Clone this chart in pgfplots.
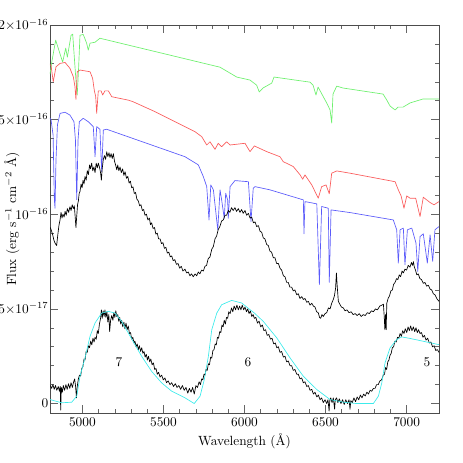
\documentclass[border=0pt]{standalone}
\usepackage{fontspec}
\usepackage{pgfplots}
\pgfplotsset{compat=1.18}
\definecolor{cgreen}{RGB}{110,240,110}
\definecolor{cred}{RGB}{250,90,90}
\definecolor{cblue}{RGB}{90,90,250}
\definecolor{ccyan}{RGB}{60,235,235}
\begin{document}
\begin{tikzpicture}
\begin{axis}[name=ax, scale only axis, width=291.75pt, height=291pt,
  xmin=4800, xmax=7200, ymin=-0.5, ymax=20,
  xtick={5000,5500,6000,6500,7000}, minor x tick num=4,
  ytick={0,5,10,15,20}, minor y tick num=4,
  yticklabels={$0$,$5{\times}10^{-17}$,$10^{-16}$,$1.5{\times}10^{-16}$,$2{\times}10^{-16}$},
  yticklabel style={inner xsep=1pt},
  xticklabel style={/pgf/number format/1000 sep={}},
  tick align=inside, major tick length=6pt, minor tick length=3pt,
  every tick/.style={black!60, line width=0.4pt},
  axis line style={line width=0.5pt, black!70},
  xlabel={Wavelength (Å)},
  ylabel={Flux (erg s$^{-1}$ cm$^{-2}$ Å)},
  every axis x label/.style={at={(axis description cs:0.5,-0.072)}, anchor=center},
  every axis y label/.style={at={(axis description cs:-0.098,0.5)}, anchor=center, rotate=90},
  every axis plot/.append style={line width=0.5pt, line join=round},
]
% green model
\addplot[cgreen, mark=none] coordinates {
(4800,17.4)(4810,17.99)(4835,19.20)(4878,18.04)(4897,18.78)(4907,18.30)(4930,19.46)(4940,19.51)(4960,17.09)(4968,16.30)(4976,17.62)(4985,19.46)(5005,19.50)(5026,19.04)(5036,18.67)(5047,19.04)(5078,19.09)(5108,19.30)(5849,17.77)(5952,17.25)(6034,17.09)(6075,16.82)(6091,16.46)(6114,16.67)(6145,16.82)(6168,16.93)(6182,17.25)(6404,16.98)(6423,16.82)(6441,16.30)(6454,16.72)(6507,15.88)(6528,15.51)(6538,14.82)(6546,16.35)(6569,16.77)(6608,16.67)(6855,16.35)(6878,16.03)(6898,15.72)(6929,15.51)(6947,15.66)(6978,15.66)(7021,15.88)(7101,16.09)(7200,16.09)
};
% red model
\addplot[cred, mark=none] coordinates {
(4800,17.9)(4806,17.88)(4820,17.00)(4837,17.79)(4862,17.97)(4893,18.02)(4923,17.71)(4944,17.26)(4954,16.74)(4960,16.07)(4968,17.53)(4985,17.62)(5047,17.53)(5063,17.18)(5073,16.56)(5082,16.21)(5088,15.33)(5098,16.52)(5115,16.52)(5125,16.30)(5139,16.52)(5160,16.52)(5181,16.21)(5283,16.03)(5314,15.94)(5448,15.42)(5592,14.80)(5695,14.36)(5736,14.10)(5767,13.66)(5787,13.83)(5818,13.43)(5838,13.75)(5859,13.57)(5890,13.83)(5911,13.66)(6003,13.75)(6034,13.31)(6061,13.61)(6137,13.31)(6219,13.04)(6239,12.78)(6301,12.52)(6343,12.08)(6359,11.85)(6373,12.08)(6415,11.55)(6455,10.85)(6476,11.46)(6503,11.55)(6523,11.08)(6538,12.17)(6569,12.29)(6651,12.17)(6929,11.72)(6949,11.29)(6966,10.97)(6984,10.32)(7001,10.97)(7021,10.85)(7056,10.85)(7083,9.88)(7103,10.90)(7145,10.62)(7169,10.50)(7200,10.67)
};
% blue model
\addplot[cblue, mark=none] coordinates {
(4800,15.07)(4806,15.02)(4819,14.19)(4827,10.76)(4831,10.32)(4837,12.87)(4846,14.72)(4862,15.33)(4893,15.39)(4923,15.24)(4948,14.89)(4957,13.92)(4965,10.76)(4973,13.92)(4981,14.89)(5005,15.07)(5036,14.89)(5067,14.63)(5078,13.04)(5088,14.63)(5108,14.49)(5119,12.25)(5129,14.45)(5150,14.49)(5633,13.04)(5715,12.61)(5746,11.99)(5767,11.46)(5781,9.70)(5792,11.55)(5808,11.29)(5835,9.18)(5849,11.29)(5859,10.76)(5875,9.79)(5884,11.11)(5896,10.76)(5900,9.79)(5911,11.46)(5941,11.78)(6024,11.72)(6040,9.62)(6054,11.38)(6065,11.46)(6157,11.29)(6363,10.76)(6367,8.97)(6373,10.67)(6446,10.55)(6462,6.28)(6476,10.41)(6517,10.32)(6523,6.40)(6534,10.23)(6651,10.09)(6918,9.70)(6939,9.18)(6949,7.42)(6960,9.18)(6980,9.27)(6990,7.33)(7005,9.18)(7032,9.27)(7058,8.48)(7069,6.98)(7083,8.82)(7103,8.97)(7128,7.42)(7145,8.91)(7161,7.51)(7175,9.18)(7200,9.35)
};
% observed spectrum (upper)
\addplot[black, mark=none] coordinates {
(4802,9.3)(4810,9.1)(4817,8.9)(4825,8.6)(4833,8.45)(4841,8.35)(4848,8.9)(4855,9.4)(4862,9.7)(4868,10.1)(4874,9.8)(4880,10.0)(4887,9.85)(4893,10.15)(4900,9.95)(4907,10.3)(4915,10.1)(4923,10.4)(4930,10.2)(4937,10.5)(4944,10.3)(4950,10.45)(4955,9.9)(4960,9.3)(4965,9.9)(4970,10.5)(4975,10.7)(4980,11.1)(4985,11.2)(4992,11.6)(4998,11.4)(5004,11.8)(5010,11.6)(5016,12.0)(5023,11.8)(5030,12.3)(5037,12.1)(5044,12.6)(5050,12.4)(5057,12.7)(5064,12.3)(5071,12.5)(5078,12.2)(5085,12.7)(5092,12.45)(5098,12.7)(5105,12.5)(5112,12.2)(5117,11.8)(5122,12.4)(5129,12.9)(5136,13.1)(5143,12.9)(5150,13.3)(5157,13.05)(5164,13.25)(5170,13.0)(5177,13.2)(5184,12.95)(5191,13.2)(5198,12.8)(5205,12.6)(5212,12.35)(5218,12.6)(5225,12.3)(5232,12.5)(5240,12.2)(5248,12.4)(5256,12.05)(5263,12.25)(5272,11.9)(5280,12.0)(5288,11.65)(5296,11.75)(5304,11.4)(5312,11.45)(5320,11.1)(5328,11.15)(5336,10.8)(5345,10.7)(5353,10.45)(5361,10.5)(5370,10.2)(5378,10.25)(5386,9.95)(5395,10.0)(5404,9.7)(5413,9.8)(5420,9.45)(5427,9.55)(5436,9.25)(5445,9.3)(5453,8.95)(5462,9.0)(5470,8.7)(5479,8.7)(5488,8.45)(5497,8.5)(5506,8.2)(5515,8.25)(5524,7.95)(5533,8.0)(5542,7.75)(5551,7.8)(5560,7.55)(5570,7.6)(5580,7.35)(5590,7.4)(5600,7.15)(5610,7.25)(5620,7.0)(5633,7.1)(5643,6.9)(5653,6.95)(5663,6.75)(5673,6.85)(5684,6.7)(5695,6.85)(5705,6.75)(5715,6.95)(5725,6.85)(5735,7.05)(5746,7.0)(5756,7.25)(5766,7.3)(5776,7.65)(5787,7.75)(5798,8.15)(5808,8.3)(5818,8.7)(5828,8.85)(5838,9.2)(5848,9.35)(5859,9.65)(5869,9.7)(5880,9.95)(5890,9.95)(5900,10.2)(5910,10.1)(5920,10.35)(5930,10.2)(5941,10.35)(5951,10.15)(5962,10.3)(5972,10.1)(5982,10.25)(5992,10.05)(6003,10.2)(6013,9.95)(6024,10.05)(6034,9.8)(6044,9.85)(6055,9.55)(6065,9.6)(6075,9.35)(6086,9.4)(6096,9.1)(6106,9.05)(6116,8.75)(6126,8.7)(6137,8.4)(6147,8.35)(6157,8.05)(6167,8.0)(6178,7.7)(6188,7.7)(6198,7.4)(6209,7.4)(6219,7.15)(6229,7.05)(6240,6.75)(6250,6.7)(6260,6.4)(6270,6.4)(6280,6.15)(6291,6.15)(6301,5.95)(6311,6.0)(6322,5.75)(6332,5.8)(6342,5.55)(6353,5.65)(6363,5.5)(6373,5.55)(6384,5.35)(6394,5.4)(6404,5.2)(6415,5.3)(6425,5.15)(6435,5.1)(6445,4.85)(6455,4.8)(6463,4.55)(6470,4.5)(6478,4.7)(6486,4.6)(6497,4.75)(6507,4.8)(6518,5.05)(6528,5.0)(6538,5.3)(6548,5.5)(6555,5.7)(6562,6.1)(6567,6.9)(6572,6.2)(6579,5.4)(6588,5.25)(6598,5.1)(6610,5.05)(6620,4.9)(6632,4.95)(6645,4.8)(6658,4.85)(6670,4.7)(6683,4.75)(6695,4.65)(6708,4.75)(6720,4.6)(6733,4.7)(6745,4.65)(6758,4.8)(6770,4.75)(6783,4.9)(6795,4.85)(6808,5.0)(6820,4.95)(6835,5.15)(6848,5.2)(6857,5.25)(6862,4.6)(6866,3.9)(6870,4.7)(6874,3.9)(6878,5.3)(6886,5.55)(6895,5.7)(6903,5.95)(6912,6.0)(6920,6.3)(6929,6.4)(6938,6.6)(6946,6.55)(6955,6.8)(6963,6.7)(6972,7.0)(6980,6.9)(6990,7.1)(7000,7.05)(7010,7.3)(7021,7.2)(7030,7.45)(7037,7.3)(7042,7.5)(7048,7.2)(7055,7.05)(7063,6.8)(7072,6.85)(7082,6.6)(7092,6.55)(7103,6.35)(7113,6.4)(7124,6.2)(7134,6.25)(7145,6.05)(7155,6.0)(7165,5.8)(7175,5.75)(7186,5.55)(7200,5.4)
};
% observed spectrum (lower)
\addplot[black, mark=none] coordinates {
(4802,0.95)(4810,0.8)(4818,1.0)(4826,0.75)(4834,0.95)(4842,0.7)(4851,0.9)(4858,0.65)(4863,0.9)(4866,-0.35)(4870,0.85)(4876,0.6)(4882,0.95)(4890,0.7)(4898,1.0)(4906,0.75)(4914,1.05)(4922,0.8)(4930,1.1)(4938,0.85)(4946,1.15)(4952,1.3)(4958,0.9)(4963,0.3)(4968,0.9)(4975,1.3)(4982,1.5)(4989,1.45)(4996,1.85)(5003,1.95)(5010,2.35)(5016,2.3)(5023,2.75)(5030,2.7)(5037,3.05)(5044,2.95)(5051,3.3)(5058,3.1)(5065,3.45)(5072,3.25)(5078,3.5)(5085,3.4)(5092,3.85)(5098,3.7)(5105,4.2)(5112,4.5)(5117,4.95)(5122,4.5)(5128,4.9)(5134,4.6)(5139,4.95)(5145,4.55)(5151,4.85)(5157,4.3)(5163,4.7)(5168,3.8)(5174,4.4)(5181,4.65)(5188,4.4)(5194,4.8)(5200,4.55)(5206,4.9)(5212,4.6)(5218,4.7)(5224,4.35)(5230,4.55)(5236,4.2)(5242,4.4)(5249,4.05)(5256,4.3)(5262,3.95)(5269,4.25)(5276,3.9)(5283,4.1)(5290,3.7)(5297,3.75)(5304,3.4)(5311,3.5)(5318,3.2)(5324,3.3)(5331,3.0)(5338,3.15)(5345,2.85)(5352,3.05)(5359,2.75)(5366,2.95)(5373,2.65)(5380,2.75)(5387,2.45)(5394,2.6)(5401,2.3)(5408,2.5)(5415,2.2)(5422,2.35)(5430,2.05)(5438,2.15)(5446,1.8)(5454,1.85)(5462,1.55)(5470,1.65)(5479,1.4)(5489,1.5)(5499,1.25)(5509,1.35)(5519,1.1)(5529,1.2)(5540,1.0)(5551,1.1)(5562,0.9)(5573,1.05)(5584,0.85)(5595,0.95)(5606,0.75)(5617,0.95)(5628,0.7)(5639,0.85)(5650,0.55)(5660,0.8)(5670,0.6)(5680,0.85)(5690,0.5)(5700,0.95)(5710,0.85)(5720,1.15)(5728,1.0)(5736,1.3)(5743,1.25)(5750,1.55)(5756,1.5)(5763,1.8)(5770,1.75)(5777,2.1)(5784,2.05)(5791,2.45)(5798,2.4)(5805,2.8)(5812,2.85)(5819,3.15)(5826,3.1)(5833,3.5)(5840,3.45)(5847,3.8)(5854,3.75)(5861,4.15)(5868,4.05)(5875,4.4)(5882,4.2)(5889,4.55)(5896,4.5)(5903,4.85)(5911,4.75)(5920,5.05)(5928,4.85)(5936,5.15)(5945,4.95)(5953,5.2)(5962,4.95)(5970,5.15)(5978,4.95)(5986,5.2)(5995,4.95)(6003,5.1)(6012,4.85)(6020,5.0)(6028,4.75)(6036,4.9)(6045,4.6)(6053,4.7)(6061,4.5)(6070,4.55)(6080,4.25)(6090,4.35)(6100,4.05)(6110,4.15)(6120,3.85)(6130,3.9)(6140,3.6)(6150,3.65)(6160,3.4)(6170,3.45)(6180,3.15)(6190,3.2)(6199,2.95)(6209,3.0)(6219,2.7)(6229,2.75)(6240,2.45)(6250,2.5)(6260,2.2)(6270,2.25)(6281,2.0)(6291,2.0)(6301,1.75)(6311,1.8)(6322,1.55)(6332,1.55)(6342,1.3)(6353,1.35)(6363,1.1)(6373,1.15)(6384,0.9)(6394,0.95)(6404,0.7)(6415,0.75)(6425,0.5)(6435,0.6)(6446,0.35)(6456,0.45)(6466,0.2)(6476,0.3)(6486,0.05)(6497,0.2)(6507,0.0)(6515,0.2)(6522,-0.4)(6526,0.15)(6532,0.3)(6540,0.05)(6548,0.3)(6556,-0.3)(6560,0.2)(6568,0.3)(6576,0.05)(6585,0.25)(6595,0.0)(6605,0.2)(6615,-0.05)(6625,0.2)(6635,0.0)(6645,0.2)(6651,-0.3)(6656,0.15)(6665,0.05)(6675,0.3)(6685,0.1)(6695,0.35)(6705,0.2)(6715,0.45)(6725,0.3)(6735,0.5)(6745,0.4)(6755,0.6)(6765,0.5)(6775,0.7)(6785,0.65)(6795,0.8)(6805,0.8)(6815,1.0)(6825,1.0)(6836,1.2)(6846,1.25)(6856,1.5)(6864,1.55)(6870,1.9)(6877,1.8)(6884,2.2)(6891,2.3)(6898,2.55)(6905,2.65)(6912,2.95)(6920,3.0)(6928,3.3)(6936,3.25)(6944,3.5)(6952,3.45)(6960,3.7)(6968,3.55)(6976,3.85)(6984,3.7)(6992,3.95)(7001,3.75)(7009,4.05)(7017,3.85)(7025,4.1)(7033,3.85)(7042,4.05)(7050,3.8)(7058,4.0)(7066,3.75)(7074,3.9)(7083,3.7)(7092,3.75)(7101,3.5)(7110,3.6)(7120,3.35)(7130,3.45)(7140,3.2)(7150,3.25)(7160,3.0)(7170,3.05)(7180,2.8)(7190,2.85)(7200,2.7)
};
% model (lower)
\addplot[ccyan, mark=none] coordinates {
(4800,0.21)(4872,0.04)(4934,0.07)(4965,0.39)(4985,1.44)(5016,2.41)(5047,3.55)(5078,4.26)(5119,4.78)(5160,4.87)(5201,4.78)(5242,4.34)(5283,3.73)(5324,3.11)(5366,2.49)(5427,1.70)(5489,1.09)(5551,0.65)(5633,0.30)(5690,0.00)(5726,0.39)(5752,1.27)(5777,2.49)(5798,3.90)(5829,4.78)(5859,5.22)(5921,5.45)(5983,5.31)(6034,4.96)(6061,4.78)(6116,4.34)(6199,3.47)(6281,2.41)(6363,1.44)(6446,0.74)(6528,0.21)(6610,0.07)(6692,0.00)(6795,0.00)(6826,0.39)(6847,1.09)(6867,2.15)(6898,2.94)(6939,3.38)(6970,3.52)(7021,3.44)(7103,3.29)(7200,3.11)
};
\node at (axis cs:5226,2.2) {7};
\node at (axis cs:6022,2.16) {6};
\node at (axis cs:7126,2.16) {5};
\end{axis}
\pgfresetboundingbox
\path[use as bounding box] ([xshift=-37.5pt,yshift=-37.5pt]ax.south west) rectangle ([xshift=18pt,yshift=18.75pt]ax.north east);
\end{tikzpicture}
\end{document}
